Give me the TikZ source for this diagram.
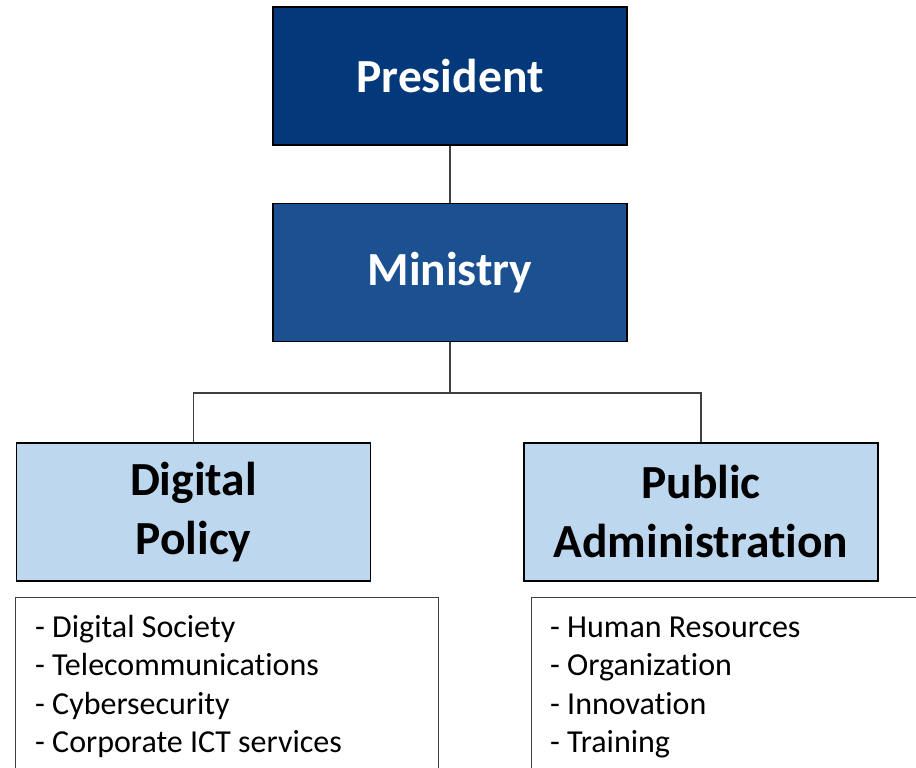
\documentclass[tikz,border=0pt]{standalone}
\usepackage{fontspec}
\setmainfont{Carlito}[Ligatures=CommonOff]
\definecolor{presblue}{HTML}{03387A}
\definecolor{minblue}{HTML}{1B5190}
\definecolor{lightblue}{HTML}{BDD7EE}
\definecolor{linegray}{HTML}{404040}
\begin{document}
\begin{tikzpicture}[x=1pt,y=-1pt,
  topbox/.style={draw=black, line width=1.8pt, minimum width=354pt, minimum height=138pt,
    inner sep=0pt, text=white, font=\bfseries\fontsize{47.5}{59}\selectfont, align=center},
  subbox/.style={draw=black, line width=1.8pt, fill=lightblue, minimum width=354pt, minimum height=138pt,
    inner sep=0pt, text=black, font=\bfseries\fontsize{47.5}{59}\selectfont, align=center},
  listbox/.style={draw=linegray, line width=1.2pt, anchor=north west, minimum height=200pt, inner sep=0pt},
  item/.style={anchor=base west, inner sep=0pt, font=\fontsize{32}{38}\selectfont},
  conn/.style={draw=linegray, line width=1.2pt}]
\clip (0,0) rectangle (916,768);
\node[topbox, fill=presblue] (pres) at (450,76) {President};
\node[topbox, fill=minblue] (min) at (450,272.5) {Ministry};
\node[subbox] (dp) at (193.5,512) {Digital\\Policy};
\node[subbox] (pa) at (701,512) {Public\\Administration};
\node[listbox, minimum width=423pt] (dl) at (15,597) {};
\node[listbox, minimum width=420pt] (pl) at (531,597) {};
\foreach \t [count=\i] in {Digital Society, Telecommunications, Cybersecurity, Corporate ICT services}
  \node[item] (dl\i) at (35,{637+38.5*(\i-1)}) {- \t};
\foreach \t [count=\i] in {Human Resources, Organization, Innovation, Training}
  \node[item] (pl\i) at (550,{637+38.5*(\i-1)}) {- \t};
\coordinate (bus) at (450,393);
\draw[conn] (pres.south) -- (min.north);
\draw[conn] (min.south) -- (bus) -| (dp.north);
\draw[conn] (bus) -| (pa.north);
\end{tikzpicture}
\end{document}
